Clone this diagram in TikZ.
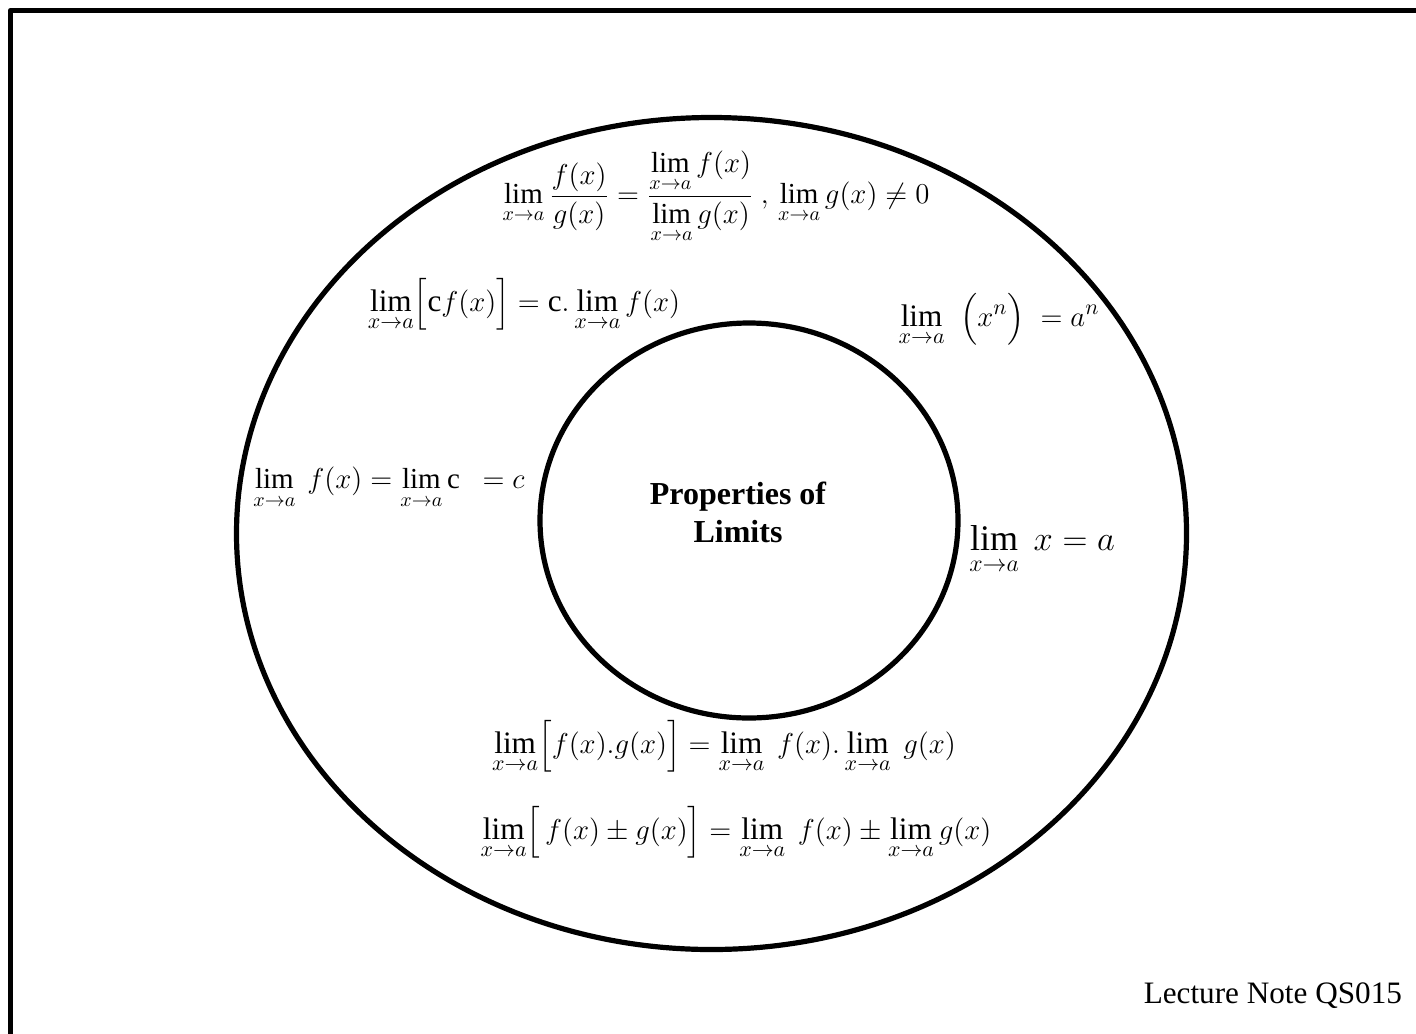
\documentclass[tikz,border=0pt]{standalone}
\usepackage{amsmath}
\usepackage{fontspec}
\setmainfont{Liberation Serif}
\usetikzlibrary{shapes.geometric}
\definecolor{ink}{RGB}{0,0,0}

\begin{document}
\begin{tikzpicture}[
    x=0.5pt,
    y=-0.5pt,
    font=\rmfamily,
    line join=round,
    frame/.style={
      draw=ink,
      line width=2.6pt
    },
    ring/.style={
      ellipse,
      draw=ink,
      line width=2.6pt,
      inner sep=0pt
    },
    rule/.style={
      text=ink,
      inner sep=0pt,
      font=\fontsize{14.5}{17}\selectfont
    },
    widerule/.style={
      rule,
      font=\fontsize{15.6}{18}\selectfont
    },
    bigrule/.style={
      rule,
      font=\fontsize{18}{21}\selectfont
    },
    title/.style={
      text=ink,
      align=center,
      font=\fontsize{16}{19}\selectfont\bfseries
    }
]

% Page area; the slide frame runs off the right and bottom edges.
\clip (0,0) rectangle (1416,1033);
\draw[frame] (10.5,10.5) rectangle (1440,1060);

% Outer ring of rules and the inner circle with the heading.
\node[ring,minimum width=475pt,minimum height=416pt] (outer) at (711.5,533.5) {};
\node[ring,minimum width=209pt,minimum height=197.5pt] (inner) at (749,520.5) {};
\node[title] (heading) at (738,512) {Properties of\\Limits};

% Rules placed round the ring.
\node[rule] (quot) at (716,197)
  {$\displaystyle\lim_{x\to a}\frac{f(x)}{g(x)}
    =\frac{\lim\limits_{x\to a}f(x)}{\lim\limits_{x\to a}g(x)}
    \ ,\,\lim\limits_{x\to a}g(x)\neq 0$};
\node[widerule] (const) at (524,305)
  {$\displaystyle\lim_{x\to a}\Bigl[\mathrm{c}f(x)\Bigr]
    =\mathrm{c}.\lim_{x\to a}f(x)$};
\node[widerule] (power) at (999,320)
  {$\displaystyle\lim_{x\to a}\ \ \Bigl(x^{n}\Bigr)\ =a^{n}$};
\node[rule] (constfn) at (389,488)
  {$\displaystyle\lim_{x\to a}\ f(x)=\lim_{x\to a}\mathrm{c}\ \ =c$};
\node[bigrule] (ident) at (1042,550)
  {$\displaystyle\lim_{x\to a}\ x=a$};
\node[widerule] (prod) at (724,747)
  {$\displaystyle\lim_{x\to a}\Bigl[f(x).g(x)\Bigr]
    =\lim_{x\to a}\ f(x).\lim_{x\to a}\ g(x)$};
\node[widerule] (sum) at (736,833)
  {$\displaystyle\lim_{x\to a}\Bigl[\,f(x)\pm g(x)\Bigr]
    =\lim_{x\to a}\ f(x)\pm\lim_{x\to a}g(x)$};

% Footer.
\node[text=ink,anchor=base east,font=\fontsize{15.6}{18}\selectfont] (footer)
  at (1409,1003) {Lecture Note QS015};

\end{tikzpicture}
\end{document}
